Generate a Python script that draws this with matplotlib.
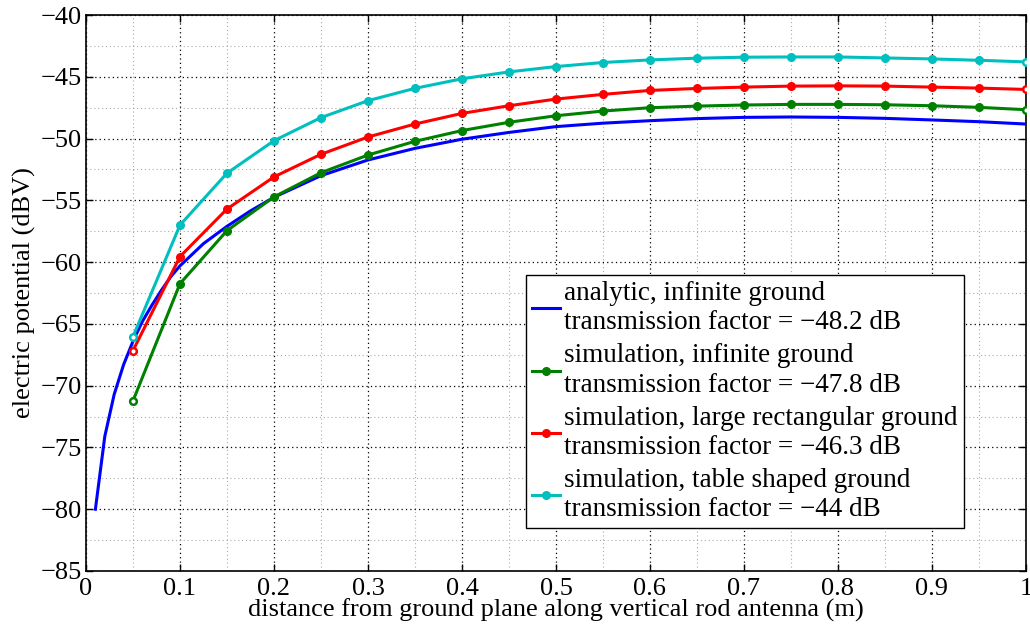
import matplotlib
matplotlib.use("Agg")
import matplotlib.pyplot as plt
from matplotlib.ticker import MultipleLocator, FuncFormatter

plt.rcParams['font.family'] = ['Liberation Serif', 'DejaVu Serif']
plt.rcParams['mathtext.fontset'] = 'stix'

# analytic, infinite ground
x_analytic = [0.01, 0.02, 0.03, 0.04, 0.05, 0.06, 0.07, 0.08, 0.09, 0.1,
              0.125, 0.15, 0.175, 0.2, 0.25, 0.3, 0.35, 0.4, 0.45, 0.5,
              0.55, 0.6, 0.65, 0.7, 0.75, 0.8, 0.85, 0.9, 0.95, 1.0]
y_analytic = [-80.0, -74.1, -70.7, -68.3, -66.4, -64.8, -63.5, -62.3, -61.2, -60.3,
              -58.5, -57.1, -55.85, -54.75, -53.0, -51.73, -50.79, -50.05, -49.5, -49.03,
              -48.75, -48.55, -48.38, -48.28, -48.25, -48.28, -48.36, -48.49, -48.63, -48.82]

x_sim = [0.05, 0.1, 0.15, 0.2, 0.25, 0.3, 0.35, 0.4, 0.45, 0.5, 0.55,
         0.6, 0.65, 0.7, 0.75, 0.8, 0.85, 0.9, 0.95, 1.0]
y_sim_inf = [-71.23, -61.74, -57.45, -54.72, -52.76, -51.33, -50.22, -49.35, -48.68, -48.15,
             -47.77, -47.5, -47.37, -47.28, -47.23, -47.23, -47.26, -47.34, -47.47, -47.66]
y_sim_rect = [-67.16, -59.55, -55.7, -53.1, -51.27, -49.87, -48.82, -47.96, -47.34, -46.8,
              -46.42, -46.1, -45.94, -45.83, -45.75, -45.73, -45.75, -45.83, -45.91, -46.02]
y_sim_table = [-66.03, -57.0, -52.8, -50.17, -48.3, -46.93, -45.93, -45.16, -44.6, -44.17,
               -43.84, -43.63, -43.49, -43.41, -43.39, -43.39, -43.47, -43.55, -43.66, -43.79]

labels = ["analytic, infinite ground\ntransmission factor = \u221248.2 dB",
          "simulation, infinite ground\ntransmission factor = \u221247.8 dB",
          "simulation, large rectangular ground\ntransmission factor = \u221246.3 dB",
          "simulation, table shaped ground\ntransmission factor = \u221244 dB"]
colors = ['#0000ff', '#008000', '#ff0000', '#00bfbf']

x_ticks = [0, 0.1, 0.2, 0.3, 0.4, 0.5, 0.6, 0.7, 0.8, 0.9, 1.0]
y_ticks = [-85, -80, -75, -70, -65, -60, -55, -50, -45, -40]

FS = 19
FS_LEG = 19.5

fig = plt.figure(figsize=(10.30, 6.28), dpi=100)
ax = fig.add_axes([0.0835, 0.0908, 0.9125, 0.8852])

lw = 2.2
ms = 5.5
ax.plot(x_analytic, y_analytic, color=colors[0], lw=lw, label=labels[0], zorder=3)
for yv, c, lab in zip([y_sim_inf, y_sim_rect, y_sim_table], colors[1:], labels[1:]):
    ax.plot(x_sim, yv, color=c, lw=lw, marker='o', ms=ms, markevery=slice(1, -1),
            label=lab, zorder=3)
    ax.plot([x_sim[0], x_sim[-1]], [yv[0], yv[-1]], ls='none', marker='o', ms=4.8,
            mfc='white', mec=c, mew=1.8, zorder=4)

ax.set_xlim(0, 1)
ax.set_ylim(-85, -40)
ax.set_xticks(x_ticks)
ax.set_yticks(y_ticks)
ax.xaxis.set_minor_locator(MultipleLocator(0.05))
ax.yaxis.set_minor_locator(MultipleLocator(2.5))
ax.xaxis.set_major_formatter(FuncFormatter(lambda v, p: ('%g' % v)))
ax.yaxis.set_major_formatter(FuncFormatter(lambda v, p: ('%g' % v).replace('-', '\u2212')))

ax.grid(which='major', color='black', ls=(0, (1, 2.5)), lw=0.9)
ax.grid(which='minor', color='#aaaaaa', ls=(0, (1, 2.5)), lw=0.8)
ax.set_axisbelow(True)
ax.tick_params(which='both', direction='in', top=True, right=True)
ax.tick_params(which='major', length=5, width=1, labelsize=FS)
ax.tick_params(axis='x', which='major', pad=5)
ax.tick_params(axis='y', which='major', pad=3)
ax.tick_params(which='minor', length=0)
for s in ax.spines.values():
    s.set_linewidth(1.2)

ax.set_xlabel('distance from ground plane along vertical rod antenna (m)', fontsize=FS, labelpad=-1)
ax.set_ylabel('electric potential (dBV)', fontsize=FS, labelpad=3)

leg = ax.legend(loc='lower right', bbox_to_anchor=(0.934, 0.077), fontsize=FS_LEG,
                frameon=True, fancybox=False, edgecolor='black', framealpha=1,
                handlelength=1.05, handletextpad=0.15, labelspacing=0.3,
                borderpad=0.22, borderaxespad=0, numpoints=1)
for t in leg.get_texts():
    t.set_linespacing(1.22)
leg.get_frame().set_linewidth(1.0)

fig.savefig('out.png', dpi=100)
